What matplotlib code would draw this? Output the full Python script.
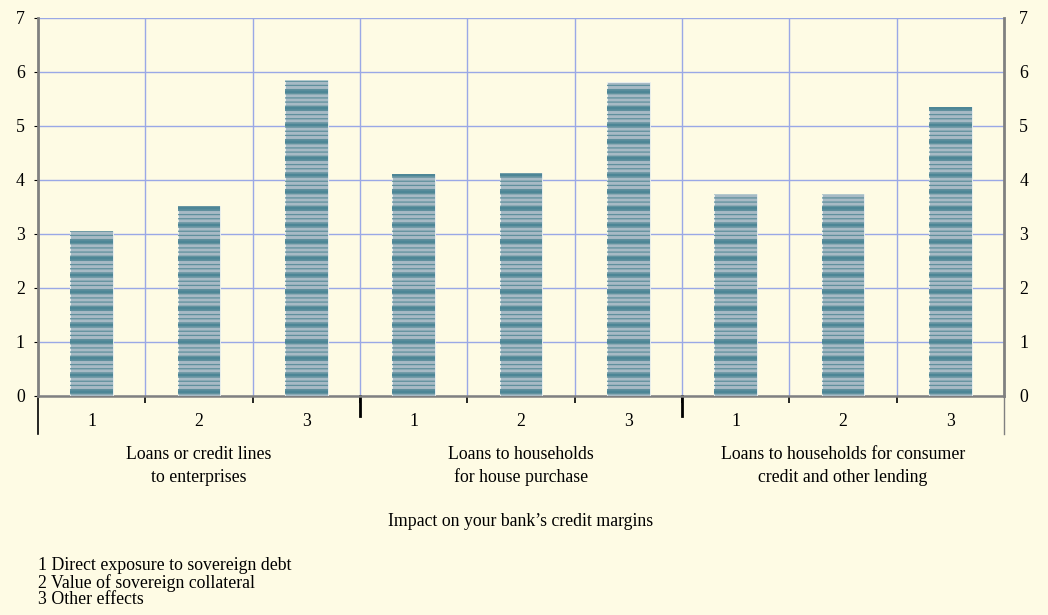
import matplotlib
matplotlib.use("Agg")
import matplotlib.pyplot as plt
import matplotlib.transforms as mtransforms
import numpy as np

## données
groupes = ["Loans or credit lines\nto enterprises",
           "Loans to households\nfor house purchase",
           "Loans to households for consumer\ncredit and other lending"]
effets = ["1", "2", "3"]
valeurs = [3.05, 3.52, 5.86,
           4.12, 4.13, 5.82,
           3.75, 3.75, 5.35]
notes = ["1 Direct exposure to sovereign debt",
         "2 Value of sovereign collateral",
         "3 Other effects"]
titre_x = "Impact on your bank\u2019s credit margins"

fond = "#fefbe4"
grille = "#9aa8e6"
gris = "#808080"
taille = 12.8

plt.rcParams['font.family'] = ['Liberation Serif', 'DejaVu Serif']
plt.rcParams['font.size'] = taille

fig = plt.figure(figsize=(10.48, 6.15), dpi=100, facecolor=fond)
ax = fig.add_axes([38/1048, 1-396/615, (1004-38)/1048, (396-18)/615])
ax.set_facecolor(fond)

x = np.arange(len(valeurs))
n = len(effets)

# barres : fond gris-bleu + lignes fines + lignes épaisses
ax.bar(x, valeurs, width=0.4, color="#a7bac5", edgecolor="#eef2f0", linewidth=0.6, zorder=3)
b1 = ax.bar(x, valeurs, width=0.4, color="none", edgecolor="#5f909d",
            hatch="----", linewidth=0, zorder=4)
b2 = ax.bar(x, valeurs, width=0.4, color="none", edgecolor="#4d8696",
            hatch="-", linewidth=0, zorder=5)
for p in b1:
    try:
        p.set_hatch_linewidth(0.9)
    except AttributeError:
        pass
for p in b2:
    try:
        p.set_hatch_linewidth(2.2)
    except AttributeError:
        pass

ax.set_xlim(-0.5, len(valeurs) - 0.5)
ax.set_ylim(0, 7)
ax.set_yticks(range(0, 8))
ax.tick_params(axis='y', which='major', length=3, direction='out', color='black',
               labelright=True, right=False, labelsize=taille, pad=6.5)
for t in ax.yaxis.get_major_ticks():
    t.label2.set_transform(t.label2.get_transform() + mtransforms.ScaledTranslation(1.5/72, 0, fig.dpi_scale_trans))

# grille
ax.set_xticks(np.arange(0.5, len(valeurs) - 0.5, 1), minor=True)
ax.grid(True, axis='x', which='minor', color=grille, linewidth=1, zorder=0)
ax.grid(True, axis='y', which='major', color=grille, linewidth=1, zorder=0)
ax.set_axisbelow(True)

ax.set_xticks(x)
ax.set_xticklabels(effets * len(groupes))
ax.tick_params(axis='x', which='major', length=0, pad=12, labelsize=taille)
ax.tick_params(axis='x', which='minor', length=5, width=1.2, color='black', direction='out')

ax.spines['top'].set_visible(False)
ax.spines['left'].set_color(gris)
ax.spines['left'].set_linewidth(2)
ax.spines['right'].set_color(gris)
ax.spines['right'].set_linewidth(2)
ax.spines['bottom'].set_color(gris)
ax.spines['bottom'].set_linewidth(1.8)

# séparateurs de groupes sous l'axe
tr = mtransforms.blended_transform_factory(ax.transData, ax.transAxes)
bas = -(434 - 396) / (396 - 18)
moyen = -(416 - 396) / (396 - 18)
ax.plot([-0.5, -0.5], [0, bas], color='black', lw=1.2, transform=tr, clip_on=False)
ax.plot([len(valeurs) - 0.5] * 2, [0, bas], color=gris, lw=1, transform=tr, clip_on=False)
for g in range(1, len(groupes)):
    xb = g * n - 0.5
    ax.plot([xb, xb], [0, moyen], color='black', lw=2, transform=tr, clip_on=False)

# libellés de groupes
trf = mtransforms.blended_transform_factory(ax.transData, fig.transFigure)
for g, nom in enumerate(groupes):
    ax.text(g * n + (n - 1) / 2, 1 - 466/615, nom, transform=trf,
            ha='center', va='center', fontsize=taille, linespacing=1.4)

fig.text((38 + 1004) / 2 / 1048, 1 - 521/615, titre_x, ha='center', va='center', fontsize=taille)

for i, t in enumerate(notes):
    fig.text(38/1048, 1 - (566 + 17 * i)/615, t, ha='left', va='center', fontsize=taille)

fig.savefig("out.png", dpi=100, facecolor=fond)
